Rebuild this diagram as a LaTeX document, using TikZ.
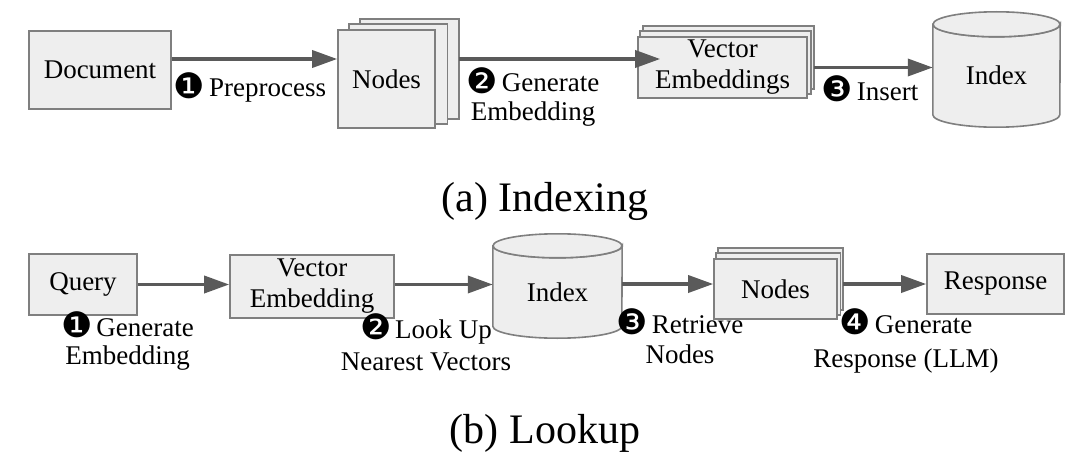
\documentclass[tikz,border=0pt]{standalone}
\usepackage{fontspec}
\setmainfont{Liberation Serif}
\newfontfamily\dejavu{DejaVu Sans}
\usetikzlibrary{arrows.meta,backgrounds}
\definecolor{boxfill}{HTML}{EEEEEE}
\definecolor{boxline}{HTML}{7F7F7F}
\definecolor{arrowc}{HTML}{5A5A5A}
\newcommand{\cnum}[1]{\raisebox{-1.5pt}{\dejavu\fontsize{35}{35}\selectfont #1}\kern-3pt\relax}
\newcommand{\cylbody}[3]{%
  \draw[boxst] (#1.north west) -- ([yshift=#3]#1.south west)
    arc[start angle=180,end angle=360,x radius=#2,y radius=#3]
    -- (#1.north east)
    arc[start angle=0,end angle=-180,x radius=#2,y radius=#3] -- cycle;
  \draw[boxst] (#1.north) ellipse[x radius=#2, y radius=#3];}
\begin{document}
\begin{tikzpicture}[x=1pt,y=-1pt,
  boxst/.style={draw=boxline, fill=boxfill, line width=1.6pt},
  box/.style={boxst, inner sep=0pt, font=\fontsize{27}{31}\selectfont, align=center},
  cyl/.style={inner sep=0pt, font=\fontsize{27}{31}\selectfont},
  lbl/.style={anchor=base, inner sep=0pt, font=\fontsize{27}{30}\selectfont, align=center},
  captext/.style={anchor=base, inner sep=0pt, font=\fontsize{42}{48}\selectfont},
  flow/.style={draw=arrowc, line width=3.5pt, -{Triangle[length=25pt,width=17pt]}}
]
\useasboundingbox (0,0) rectangle (1080,460);

% ---------- (a) Indexing ----------
\node[box, minimum width=142, minimum height=78] (doc) at (100,70) {Document};
\node[box, minimum width=97, minimum height=98] (n1) at (386.5,79) {Nodes};
\node[box, minimum width=169, minimum height=61] (ve1) at (722.5,67.5) {Vector\\Embeddings};
\node[cyl, minimum width=127, minimum height=102.5] (idx1) at (996.5,75.75) {Index};

% ---------- (b) Lookup ----------
\node[box, minimum width=108, minimum height=61] (q) at (83,284.5) {Query};
\node[box, minimum width=164, minimum height=63] (ve2) at (312,286.5) {Vector\\Embedding};
\node[cyl, minimum width=129, minimum height=92] (idx2) at (557.5,292) {Index};
\node[box, minimum width=123, minimum height=60] (n2) at (775.5,289) {Nodes};
\node[box, minimum width=137, minimum height=60] (resp) at (995.5,284) {Response};

\begin{scope}[on background layer]
  \fill[white] (0,0) rectangle (1080,460);
  % stacked layers (top Nodes)
  \draw[boxst] ([shift={(23,-10)}]n1.south west) rectangle ([shift={(23,-10)}]n1.north east);
  \draw[boxst] ([shift={(11.5,-5)}]n1.south west) rectangle ([shift={(11.5,-5)}]n1.north east);
  % stacked layers (Vector Embeddings)
  \draw[boxst] ([shift={(6,-10)}]ve1.south west) rectangle ([shift={(6,-10)}]ve1.north east);
  \draw[boxst] ([shift={(3,-5)}]ve1.south west) rectangle ([shift={(3,-5)}]ve1.north east);
  % stacked layers (bottom Nodes)
  \draw[boxst] ([shift={(5,-10)}]n2.south west) rectangle ([shift={(5,-10)}]n2.north east);
  \draw[boxst] ([shift={(2.5,-5)}]n2.south west) rectangle ([shift={(2.5,-5)}]n2.north east);
  % cylinders
  \cylbody{idx1}{63.5pt}{12.5pt}
  \cylbody{idx2}{64.5pt}{12pt}
\end{scope}

% arrows (a)
\draw[flow] ([yshift=11pt]doc.east) -- ([yshift=11pt]doc.east -| n1.west);
\draw[flow] ([xshift=23pt,yshift=20pt]n1.east) -- ([xshift=23pt,yshift=20pt]n1.east -| ve1.west);
\draw[flow] ([xshift=6pt]ve1.east) -- (ve1.east -| idx1.west);

% arrows (b)
\draw[flow] (q.east) -- (q.east -| ve2.west);
\draw[flow] ([yshift=2pt]ve2.east) -- ([yshift=2pt]ve2.east -| idx2.west);
\draw[flow] ([yshift=8pt]idx2.east) -- ([yshift=8pt]idx2.east -| n2.west);
\draw[flow] ([xshift=5pt]n2.east |- resp.west) -- (resp.west);

% step labels (a)  (anchor base = last line)
\node[lbl] (l1) at (250,97) {\cnum{❶} Preprocess};
\node[lbl, font=\fontsize{27}{29}\selectfont] (l2) at (533,121) {\cnum{❷} Generate\\Embedding};
\node[lbl] (l3) at (870,100) {\cnum{❸} Insert};

% step labels (b)
\node[lbl, font=\fontsize{27}{28}\selectfont] (b1) at (127.5,364) {\cnum{❶} Generate\\Embedding};
\node[lbl, font=\fontsize{27}{32}\selectfont] (b2) at (426,370) {\cnum{❷} Look Up\\Nearest Vectors};
\node[lbl, font=\fontsize{27}{30}\selectfont] (b3) at (680,363) {\cnum{❸} Retrieve\\Nodes};
\node[lbl, font=\fontsize{27}{34}\selectfont] (b4) at (906,367) {\cnum{❹} Generate\\Response (LLM)};

% captions
\node[captext] (capa) at (545,211) {(a) Indexing};
\node[captext] (capb) at (545,443) {(b) Lookup};
\end{tikzpicture}
\end{document}
